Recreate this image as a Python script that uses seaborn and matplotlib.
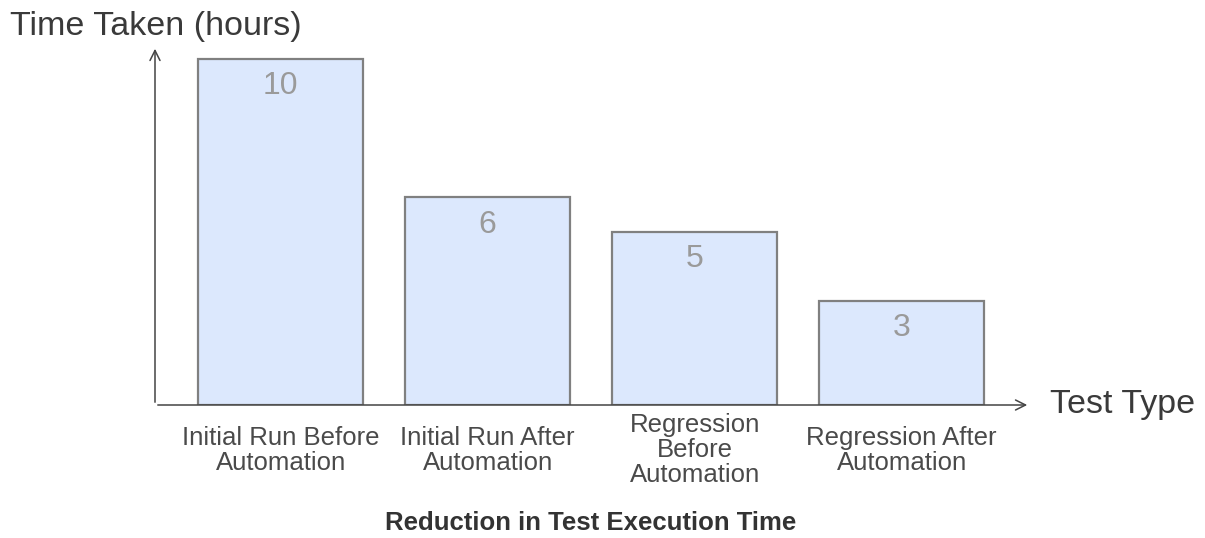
import matplotlib
matplotlib.use("Agg")
import matplotlib.pyplot as plt
import seaborn as sns
import pandas as pd

categories = [
    "Initial Run Before\nAutomation",
    "Initial Run After\nAutomation",
    "Regression\nBefore\nAutomation",
    "Regression After\nAutomation",
]
hours = [10, 6, 5, 3]

x_label = "Test Type"
y_label = "Time Taken (hours)"
title = "Reduction in Test Execution Time"

sns.set_theme(style="white")
plt.rcParams["font.family"] = ["Liberation Sans", "DejaVu Sans"]

df = pd.DataFrame({"category": categories, "hours": hours})

fig = plt.figure(figsize=(12.05, 5.38), dpi=100)
ax = fig.add_axes([155 / 1205, 133 / 538, (1030 - 155) / 1205, (405 - 46) / 538])

sns.barplot(data=df, x="category", y="hours", ax=ax, color="#dce8fd",
            saturation=1, edgecolor="#808080", linewidth=1.6, width=0.8)

ax.set_xlim(-0.607, 3.62)
ax.set_ylim(0, 10.38)
ax.set_xlabel("")
ax.set_ylabel("")
ax.set_yticks([])
for s in ax.spines.values():
    s.set_visible(False)

ax.tick_params(axis="x", length=0, pad=32.5, labelsize=18.5, labelcolor="#4a4a4a")
for lbl in ax.get_xticklabels():
    lbl.set_va("center")
    lbl.set_linespacing(1.06)

# value labels inside each bar, just below its top
for i, v in enumerate(hours):
    ax.annotate(str(v), xy=(i, v), xytext=(0, -19.5), textcoords="offset points",
                ha="center", va="center", fontsize=23, color="#9a9a9a")

# axis arrows
arrow = dict(arrowstyle="->", color="#444444", lw=1.1, mutation_scale=18)
ax.annotate("", xy=(0, 1.0), xytext=(0, 0), xycoords="axes fraction",
            textcoords="axes fraction", arrowprops=arrow)
ax.annotate("", xy=(1.0, 0), xytext=(0, 0), xycoords="axes fraction",
            textcoords="axes fraction", arrowprops=arrow)

fig.text(10 / 1205, 1 - 27 / 538, y_label, ha="left", va="center",
         fontsize=24.5, color="#3a3a3a")
fig.text(1050 / 1205, 1 - 405 / 538, x_label, ha="left", va="center",
         fontsize=24.5, color="#3a3a3a")
fig.text(591 / 1205, 1 - 523 / 538, title, ha="center", va="center",
         fontsize=18.5, fontweight="bold", color="#333333")

fig.savefig("out.png", dpi=100, facecolor="white")
